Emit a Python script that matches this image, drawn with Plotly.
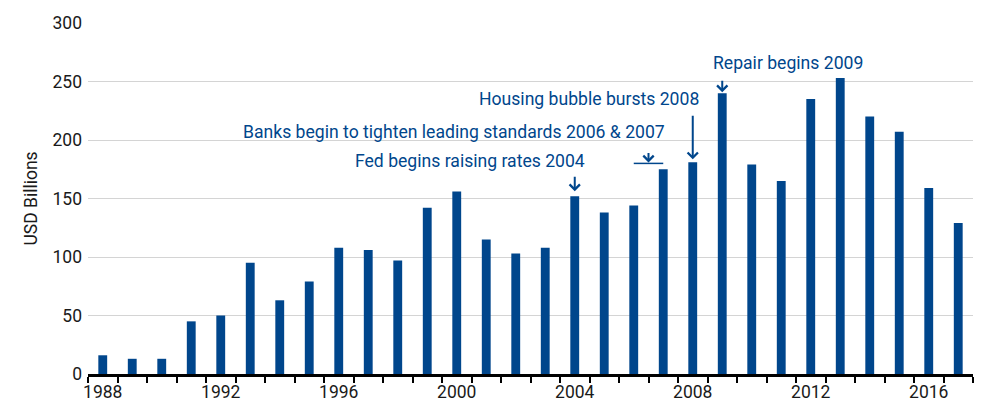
import plotly.graph_objects as go

# ---- data ----
years = list(range(1988, 2018))
values = [16, 13, 13, 45, 50, 95, 63, 79, 108, 106, 97, 142, 156, 115, 103, 108,
          152, 138, 144, 175, 181, 240, 179, 165, 235, 253, 220, 207, 159, 129]
tick_years = [1988, 1992, 1996, 2000, 2004, 2008, 2012, 2016]
y_ticks = [0, 50, 100, 150, 200, 250, 300]
y_title = "USD Billions"

note_texts = ["Repair begins 2009", "Housing bubble bursts 2008",
              "Banks begin to tighten leading standards 2006 & 2007",
              "Fed begins raising rates 2004"]
note_years = [2009, 2008, 2007, 2004]

BLUE = "#00468c"
FONT = "Roboto, Liberation Sans, sans-serif"
val = dict(zip(years, values))

fig = go.Figure()
fig.add_trace(go.Bar(x=years, y=values, marker_color=BLUE, width=0.3,
                     marker_line_width=0, hoverinfo="x+y"))

# text annotations: (xanchor, xshift, yshift)
text_style = [("left", -11, 30), ("right", 8, 63), ("right", 3.5, 37.5), ("right", 12, 34.7)]
annotations = []
for t, yr, (xa, xs, ys) in zip(note_texts, note_years, text_style):
    annotations.append(dict(x=yr, y=val[yr], text=t, showarrow=False, xanchor=xa,
                            yanchor="middle", xshift=xs, yshift=ys,
                            font=dict(family=FONT, size=17.6, color=BLUE)))

# arrows
arrow_specs = [(2009, val[2009], -14, 1), (2008, val[2008], -48, 3),
               (2004, val[2004], -21, 5)]
bracket_y = max(val[2006], val[2007]) + 5
arrow_specs.append((2006.5, bracket_y, -12, 1))
for ax_x, ax_y, ay, so in arrow_specs:
    annotations.append(dict(x=ax_x, y=ax_y, text="", showarrow=True, ax=0, ay=ay,
                            standoff=so, arrowhead=4, arrowsize=1, arrowwidth=2,
                            arrowcolor=BLUE))

fig.add_shape(type="line", x0=2006, x1=2007, y0=bracket_y, y1=bracket_y,
              line=dict(color=BLUE, width=1.5))

boundaries = [y - 0.5 for y in years] + [years[-1] + 0.5]

fig.update_layout(
    width=993, height=406,
    margin=dict(l=80, r=28, t=15, b=40),
    plot_bgcolor="white", paper_bgcolor="white",
    showlegend=False,
    annotations=annotations,
    font=dict(family=FONT, size=17, color="#1a1a1a"),
    xaxis=dict(range=[years[0] - 0.5, years[-1] + 0.5], tickvals=tick_years,
               ticktext=[str(y) for y in tick_years], ticks="", showgrid=False,
               showline=True, linecolor="black", linewidth=2.5, zeroline=False,
               tickfont=dict(size=17.5), automargin=False,
               minor=dict(tickvals=boundaries, ticks="outside", ticklen=6,
                          tickwidth=1.5, tickcolor="black", showgrid=False)),
    yaxis=dict(range=[0, 300], tickvals=y_ticks, showgrid=True, gridcolor="#d4d4d4",
               gridwidth=1, zeroline=False, ticks="", showline=False,
               tickfont=dict(size=17.5), automargin=False, ticklabelstandoff=5,
               title=dict(text=y_title, font=dict(size=17.5), standoff=10)),
)

fig.write_html("out.html")
